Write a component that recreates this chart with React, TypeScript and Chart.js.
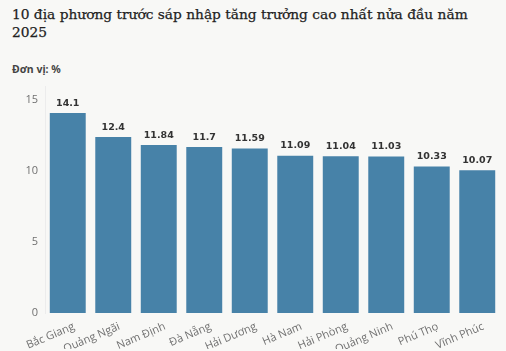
import React, { useEffect, useRef } from 'react';
import { Chart, registerables } from 'chart.js';

Chart.register(...registerables);

const categories = ['Bắc Giang', 'Quảng Ngãi', 'Nam Định', 'Đà Nẵng', 'Hải Dương', 'Hà Nam', 'Hải Phòng', 'Quảng Ninh', 'Phú Thọ', 'Vĩnh Phúc'];
const values = [14.1, 12.4, 11.84, 11.7, 11.59, 11.09, 11.04, 11.03, 10.33, 10.07];
const yTicks = [0, 5, 10, 15];
const titleLines = ['10 địa phương trước sáp nhập tăng trưởng cao nhất nửa đầu năm', '2025'];
const unitLabel = 'Đơn vị: %';

export default function App() {
  const ref = useRef<HTMLCanvasElement>(null);

  useEffect(() => {
    if (!ref.current) return;
    const valueLabels = {
      id: 'valueLabels',
      afterDatasetsDraw(chart: any) {
        const ctx = chart.ctx;
        const meta = chart.getDatasetMeta(0);
        ctx.save();
        ctx.font = 'bold 9.5px "DejaVu Sans"';
        ctx.fillStyle = '#333';
        ctx.textAlign = 'center';
        ctx.textBaseline = 'bottom';
        meta.data.forEach((el: any, i: number) => {
          ctx.fillText(String(values[i]), el.x, el.y - 5);
        });
        ctx.restore();
      },
    };
    const xLabels = {
      id: 'xLabels',
      afterDraw(chart: any) {
        const ctx = chart.ctx;
        const xs = chart.scales.x;
        const bottom = chart.chartArea.bottom;
        ctx.save();
        ctx.font = '11px "Open Sans"';
        ctx.fillStyle = '#707070';
        ctx.textAlign = 'right';
        ctx.textBaseline = 'top';
        categories.forEach((c, i) => {
          const x = xs.getPixelForTick(i) + 4;
          ctx.save();
          ctx.translate(x, bottom + 8);
          ctx.rotate((-23 * Math.PI) / 180);
          ctx.fillText(c, 0, 0);
          ctx.restore();
        });
        ctx.restore();
      },
    };
    const chart = new Chart(ref.current, {
      type: 'bar',
      data: {
        labels: categories,
        datasets: [
          {
            data: values,
            backgroundColor: '#4782a8',
            barPercentage: 0.79,
            categoryPercentage: 1,
          },
        ],
      },
      options: {
        animation: false,
        responsive: false,
        layout: { padding: { top: 6, right: 6, left: 0, bottom: 0 } },
        plugins: { legend: { display: false }, tooltip: { enabled: false } },
        scales: {
          x: {
            grid: { display: false },
            border: { display: false },
            ticks: { display: false },
            afterFit(s: any) {
              s.height = 36;
              s.paddingLeft = 0;
              s.paddingRight = 0;
            },
          },
          y: {
            min: 0,
            max: 16,
            grid: { display: false, drawTicks: false },
            border: { display: true, color: '#ececec' },
            ticks: {
              stepSize: 5,
              color: '#707070',
              font: { family: '"Open Sans"', size: 11 },
              padding: 7,
            },
            afterBuildTicks(s: any) {
              s.ticks = yTicks.map((v) => ({ value: v }));
            },
            afterFit(s: any) {
              s.width = 45;
              s.paddingTop = 0;
              s.paddingBottom = 0;
            },
          },
        },
      },
      plugins: [valueLabels, xLabels],
    } as any);
    return () => chart.destroy();
  }, []);

  return (
    <div
      style={{
        position: 'fixed',
        top: 0,
        left: 0,
        width: 506,
        height: 351,
        overflow: 'hidden',
        background: '#f8f8f6',
      }}
    >
      <div
        style={{
          position: 'absolute',
          top: 5,
          left: 12,
          fontFamily: '"DejaVu Serif", serif',
          fontSize: 13.75,
          lineHeight: '18px',
          color: '#222',
          whiteSpace: 'nowrap',
          WebkitTextStroke: '0.25px #222',
        }}
      >
        {titleLines.map((l, i) => (
          <div key={i}>{l}</div>
        ))}
      </div>
      <div
        style={{
          position: 'absolute',
          top: 62,
          left: 12,
          fontFamily: '"Noto Sans", sans-serif',
          fontWeight: 'bold',
          fontSize: 10.5,
          color: '#444',
        }}
      >
        {unitLabel}
      </div>
      <canvas ref={ref} width={506} height={269} style={{ position: 'absolute', top: 80, left: 0 }} />
    </div>
  );
}
